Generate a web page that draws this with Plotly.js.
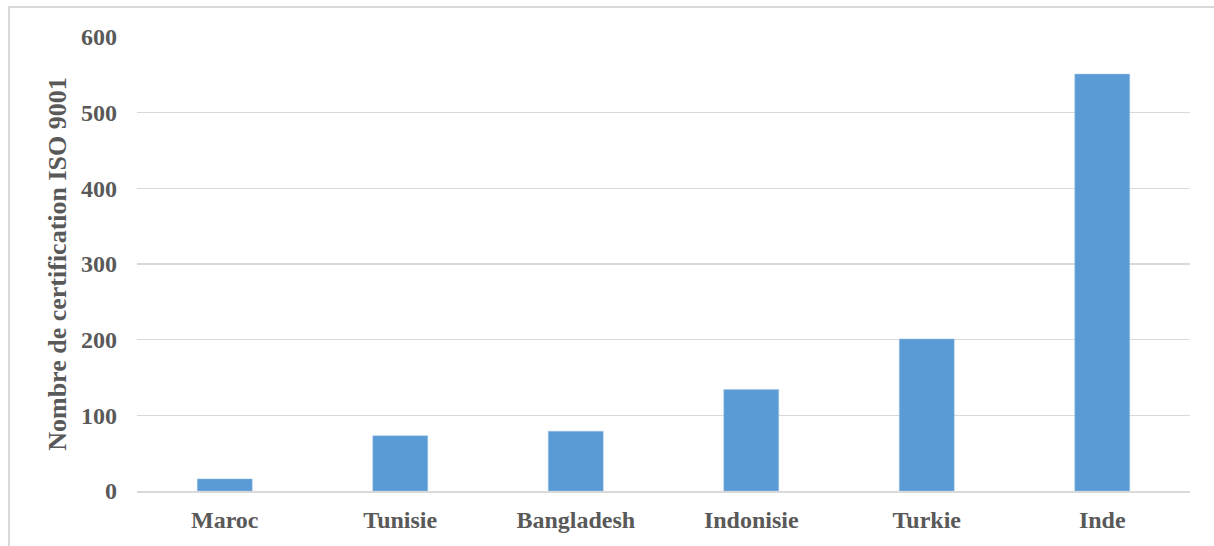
<!DOCTYPE html>
<html>
<head>
<meta charset="utf-8">
<script src="https://cdn.plot.ly/plotly-3.0.1.min.js"></script>
<style>
html,body{margin:0;padding:0;overflow:hidden;background:#fff;}
#frame{position:absolute;left:8px;top:6px;width:1300px;height:700px;border:2px solid #d9d9d9;box-sizing:border-box;}
#chart{position:absolute;left:0;top:0;width:1214px;height:546px;}
</style>
</head>
<body>
<div id="frame"></div>
<div id="chart"></div>
<script>
const categories = ["Maroc", "Tunisie", "Bangladesh", "Indonisie", "Turkie", "Inde"];
const values = [16, 73, 79, 134, 201, 551];
const yTicks = [0, 100, 200, 300, 400, 500, 600];
const yTitle = "Nombre de certification ISO 9001";

const font = {family: "Liberation Serif, Times New Roman, serif", color: "#595959"};

Plotly.newPlot("chart", [{
  type: "bar",
  x: categories,
  y: values,
  marker: {color: "#5b9bd5", line: {color: "#9dc3e6", width: 0.5}},
  hoverinfo: "x+y"
}], {
  width: 1214,
  height: 546,
  margin: {l: 137, r: 24, t: 37, b: 55},
  paper_bgcolor: "rgba(0,0,0,0)",
  plot_bgcolor: "rgba(0,0,0,0)",
  bargap: 0.687,
  showlegend: false,
  xaxis: {
    tickfont: Object.assign({size: 24, weight: "bold"}, font),
    showgrid: false,
    showline: true,
    linecolor: "#d9d9d9",
    linewidth: 2,
    ticks: "",
    ticklabelstandoff: 6
  },
  yaxis: {
    range: [0, 600],
    tickvals: yTicks,
    ticktext: yTicks.map(String),
    tickfont: Object.assign({size: 24, weight: "bold"}, font),
    showgrid: true,
    gridcolor: "#d9d9d9",
    gridwidth: 1.5,
    zeroline: false,
    showline: false,
    ticks: "",
    ticklabelstandoff: 19,
    title: {text: yTitle, font: Object.assign({size: 26, weight: "bold"}, font), standoff: 6}
  }
}, {displayModeBar: false, staticPlot: true});
</script>
</body>
</html>
